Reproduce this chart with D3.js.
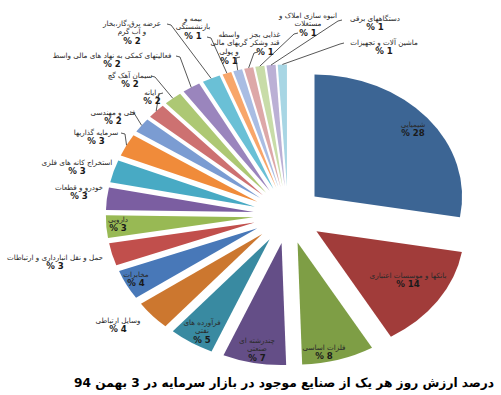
<!DOCTYPE html>
<html><head><meta charset="utf-8">
<script src="https://cdn.jsdelivr.net/npm/d3@7/dist/d3.min.js"></script>
<style>body{margin:0;background:#fff}</style>
</head><body>
<svg id="c" width="501" height="395"></svg>
<script>
// ---------- data ----------
const categories = [
  "شیمیایی",
  "بانکها و موسسات اعتباری",
  "فلزات اساسی",
  "چندرشته ای\nصنعتی",
  "فرآورده های\nنفتی",
  "وسایل ارتباطی",
  "مخابرات",
  "حمل و نقل انبارداری و ارتباطات",
  "دارویی",
  "خودرو و قطعات",
  "استخراج کانه های فلزی",
  "سرمایه گذاریها",
  "فنی و مهندسی",
  "رایانه",
  "سیمان آهک گچ",
  "فعالیتهای کمکی به نهاد های مالی واسط",
  "عرضه برق،گاز،بخار\nو آب گرم",
  "بیمه و\nبازنشستگی",
  "واسطه\nگریهای مالی\nو پولی",
  "غذایی بجز\nقند وشکر",
  "انبوه سازی املاک و\nمستغلات",
  "دستگاههای برقی",
  "ماشین آلات و تجهیزات"
];
const values = [28,14,8,7,5,4,4,3,3,3,3,3,2,2,2,2,2,1,1,1,1,1,1];
const title = "درصد ارزش روز هر یک از صنایع موجود در بازار سرمایه در 3 بهمن 94";

// ---------- styles / layout ----------
const colors = ["#3c6594","#a13c3a","#7e9e45","#644e87","#398aa1","#cc772f",
  "#4878b8","#c14f4c","#98b954","#7b5ea1","#48aac4","#f08b3a",
  "#7b9cd2","#cd7171","#adc874","#9a85bd","#6ac0d6","#f8a66a",
  "#a9bde3","#dda8a8","#c8dca8","#bbb0d5","#a8d6e4"];
const cx = 288, cy = 215, R = 122, sx = 1.21, explode = 28.6;
// label block centres (x, y of first line)
const labelPos = [[413,124],[408,275],[324,347],[257,340],[202,322],[118,320],
  [136,274],[55,257],[118,219],[79,187],[77,162],[96,132],[113,112],[152,92],
  [130,75],[112,55],[132,23],[193,18],[229,34],[265,34],[308,15],[375,18],[384,42]];
// leader line start points (label side) for labels that have one
const leaderFrom = {11:[121,133],12:[130,112],13:[163,93],14:[151,76],15:[176,56],
  16:[167,24],17:[207,37],18:[240,57],19:[258,52],20:[298,33],21:[342,20],22:[344,43]};
const lineH = 8.7;

const svg = d3.select("#c");
const pie = d3.pie().value(d => d).sort(null);
const arcs = pie(values);
const arc = d3.arc().innerRadius(0).outerRadius(R);
const offArc = d3.arc().innerRadius(0).outerRadius(2 * explode);
const rimArc = d3.arc().innerRadius(R * 0.98).outerRadius(R * 1.02);

const toPx = (p, o) => [cx + sx * (p[0] + o[0]), cy + (p[1] + o[1])];

const g = svg.append("g");
arcs.forEach((a, i) => {
  const o = offArc.centroid(a);
  g.append("path")
    .attr("d", arc(a))
    .attr("fill", colors[i])
    .attr("transform", `translate(${cx},${cy}) scale(${sx},1) translate(${o[0]},${o[1]})`);
});

// leader lines
const lg = svg.append("g").attr("fill", "none").attr("stroke", "#444").attr("stroke-width", 0.9);
Object.keys(leaderFrom).forEach(k => {
  const i = +k, a = arcs[i];
  const end = toPx(rimArc.centroid(a), offArc.centroid(a));
  const s = leaderFrom[k];
  const dir = end[0] > s[0] ? 1 : -1;
  lg.append("path").attr("d", `M${s[0]},${s[1]}L${s[0] + dir * 4},${s[1] + 1}L${end[0]},${end[1]}`);
});

// labels
const tg = svg.append("g").attr("font-family", "DejaVu Sans").attr("text-anchor", "middle");
arcs.forEach((a, i) => {
  const lines = categories[i].split("\n");
  const [x, y] = labelPos[i];
  lines.forEach((t, j) => {
    tg.append("text").attr("x", x).attr("y", y + j * lineH + 2.6)
      .attr("direction", "rtl").attr("font-size", 7.2).attr("fill", "#2a2a2a").text(t);
  });
  tg.append("text").attr("x", x).attr("y", y + lines.length * lineH + 3.4)
    .attr("font-size", 8.6).attr("font-weight", "bold").attr("fill", "#1a1a1a")
    .text("% " + values[i]);
});

svg.append("text").attr("x", 284).attr("y", 387)
  .attr("font-family", "DejaVu Sans").attr("font-weight", "bold").attr("font-size", 12.5)
  .attr("text-anchor", "middle").attr("direction", "rtl").attr("fill", "#000")
  .attr("textLength", 420).attr("lengthAdjust", "spacingAndGlyphs").text(title);
</script>
</body></html>
